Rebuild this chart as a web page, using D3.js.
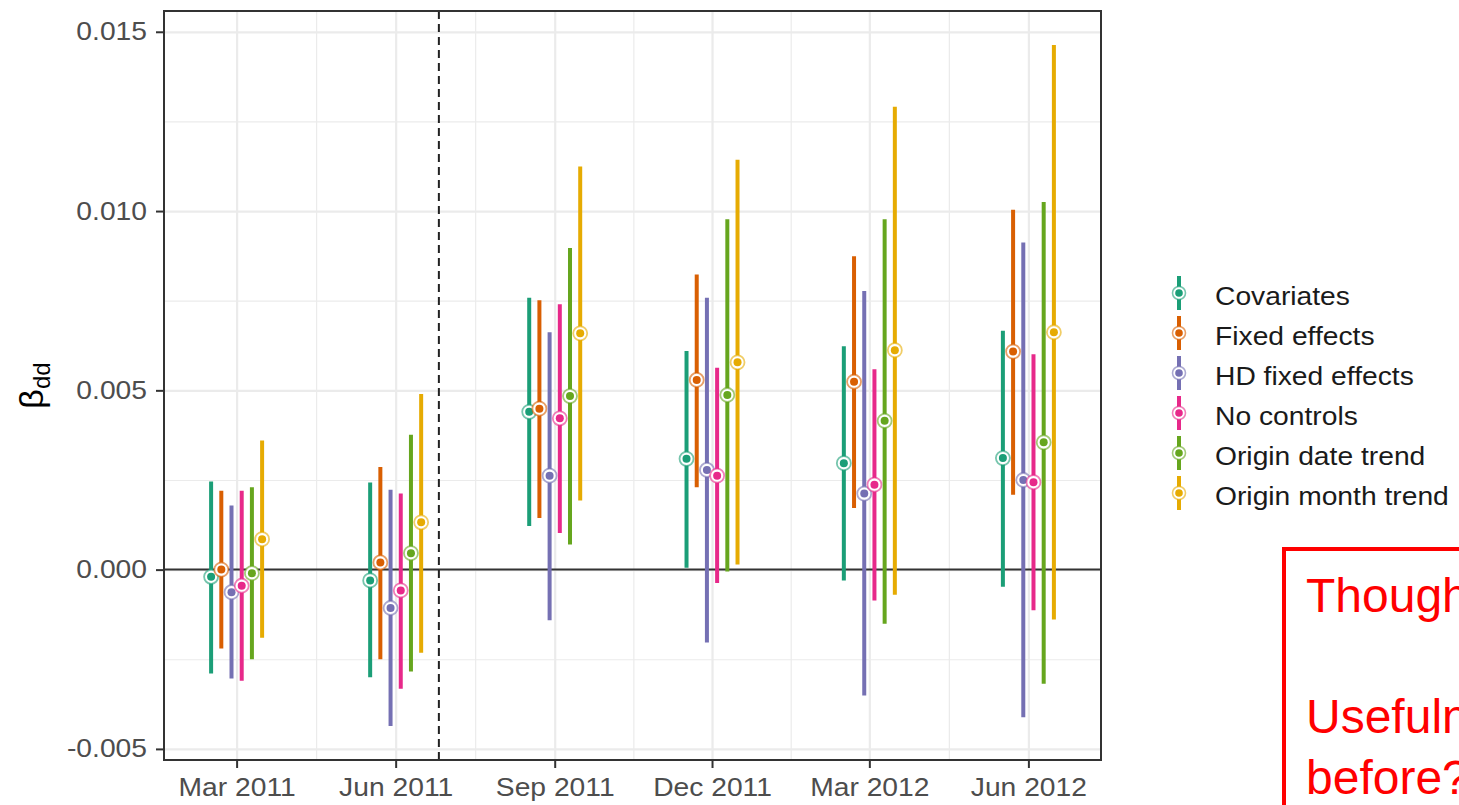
<!DOCTYPE html>
<html>
<head>
<meta charset="utf-8">
<script src="https://cdn.jsdelivr.net/npm/d3@7"></script>
<style>
    body { margin: 0; background: #fff; overflow: hidden; }
    svg { display: block; font-family: "Liberation Sans", Arial, sans-serif; }
</style>
</head>
<body>
<svg class="betaPlot" width="1459" height="805"></svg>
<script>
//Event study style plot: beta_dd per quarter, one dodged pointrange per model spec.

// ---- data ----
var periods = ["2011-03-01", "2011-06-01", "2011-09-01", "2011-12-01", "2012-03-01", "2012-06-01"];
var seriesNames = ["Covariates", "Fixed effects", "HD fixed effects", "No controls", "Origin date trend", "Origin month trend"];
var eventDate = "2011-06-26";

// one row per series, one column per period
var estimate = [
    [-0.0002, -0.0003, 0.0044, 0.00309, 0.00297, 0.00311],
    [0.0000, 0.0002, 0.00449, 0.00529, 0.00524, 0.00608],
    [-0.00063, -0.00107, 0.00262, 0.00278, 0.00212, 0.0025],
    [-0.00045, -0.00058, 0.00422, 0.00262, 0.00237, 0.00244],
    [-0.0001, 0.00046, 0.00484, 0.00487, 0.00415, 0.00355],
    [0.00085, 0.00132, 0.00659, 0.00578, 0.00612, 0.00662]
];
var lower = [
    [-0.0029, -0.0030, 0.00122, 0.00005, -0.0003, -0.00048],
    [-0.0022, -0.0025, 0.00144, 0.0023, 0.00172, 0.00209],
    [-0.00304, -0.00436, -0.00141, -0.00203, -0.00351, -0.00412],
    [-0.0031, -0.00332, 0.00102, -0.00037, -0.00086, -0.00113],
    [-0.0025, -0.00284, 0.0007, -0.00005, -0.00151, -0.00318],
    [-0.0019, -0.00232, 0.00193, 0.00014, -0.0007, -0.00139]
];
var upper = [
    [0.00246, 0.00243, 0.00758, 0.0061, 0.00623, 0.00666],
    [0.0022, 0.00286, 0.00751, 0.00823, 0.00874, 0.01004],
    [0.00179, 0.00223, 0.00662, 0.00758, 0.00777, 0.00912],
    [0.0022, 0.00212, 0.0074, 0.00563, 0.00559, 0.00601],
    [0.0023, 0.00376, 0.00897, 0.00977, 0.00977, 0.01025],
    [0.0036, 0.0049, 0.01124, 0.01143, 0.01291, 0.01463]
];
var yMajorTicks = [-0.005, 0, 0.005, 0.010, 0.015];
var yMinorTicks = [-0.0025, 0.0025, 0.0075, 0.0125];

// Dark2 palette
var colors = ["#1B9E77", "#D95F02", "#7570B3", "#E7298A", "#66A61E", "#E6AB02"];

var svg = d3.select("svg.betaPlot"),
    panel = {left: 164, top: 11, right: 1101, bottom: 760},
    width = panel.right - panel.left,
    height = panel.bottom - panel.top;

var parseDate = d3.utcParse("%Y-%m-%d");
var dates = periods.map(parseDate);
var textStretch = 1.13;   //the reference plot is a bit wider than tall

//x is a date axis padded like ggplot does
var x = d3.scaleUtc()
    .domain([parseDate("2011-01-18"), parseDate("2012-07-13")])
    .range([0, width]);
var dodge = d3.scalePoint().domain(seriesNames).range([-25.5, 25.5]);

var yMin = d3.min(lower, function(r) { return d3.min(r); }),
    yMax = d3.max(upper, function(r) { return d3.max(r); }),
    yPad = (yMax - yMin) * 0.05;
var y = d3.scaleLinear().domain([yMin - yPad, yMax + yPad]).range([height, 0]);

var g = svg.append("g").attr("transform", "translate(" + panel.left + "," + panel.top + ")");

function stretchText(sel) {
    sel.each(function() {
        var t = d3.select(this);
        var tx = +t.attr("x") || 0, ty = +t.attr("y") || 0;
        t.attr("x", 0).attr("y", 0)
            .attr("transform", "translate(" + tx + "," + ty + ") scale(" + textStretch + ",1)");
    });
}

//--Grid
var xMinor = [];
for (var i = 0; i < dates.length - 1; i++) {
    xMinor.push(new Date((dates[i].getTime() + dates[i + 1].getTime()) / 2));
}
function gridStyle(sel, w) {
    sel.select(".domain").remove();
    sel.selectAll("line").attr("stroke", "#ebebeb").attr("stroke-width", w);
}
g.append("g").call(d3.axisLeft(y).tickValues(yMinorTicks).tickSize(-width).tickFormat(""))
    .call(gridStyle, 1.2);
g.append("g").call(d3.axisBottom(x).tickValues(xMinor).tickSize(height).tickFormat(""))
    .call(gridStyle, 1.2);
g.append("g").call(d3.axisLeft(y).tickValues(yMajorTicks).tickSize(-width).tickFormat(""))
    .call(gridStyle, 2.2);
g.append("g").call(d3.axisBottom(x).tickValues(dates).tickSize(height).tickFormat(""))
    .call(gridStyle, 2.2);

//zero line and event line
g.append("line")
    .attr("x1", 0).attr("x2", width)
    .attr("y1", y(0)).attr("y2", y(0))
    .attr("stroke", "#333").attr("stroke-width", 2);
g.append("line")
    .attr("x1", x(parseDate(eventDate))).attr("x2", x(parseDate(eventDate)))
    .attr("y1", 0).attr("y2", height)
    .attr("stroke", "#222").attr("stroke-width", 2)
    .attr("stroke-dasharray", "8,5");

//--Pointranges
seriesNames.forEach(function(name, s) {
    var rows = dates.map(function(d, j) {
        return {date: d, est: estimate[s][j], lo: lower[s][j], hi: upper[s][j]};
    });
    var sg = g.append("g").attr("class", "series");
    sg.selectAll("line")
        .data(rows).enter().append("line")
        .attr("x1", function(d) { return x(d.date) + dodge(name); })
        .attr("x2", function(d) { return x(d.date) + dodge(name); })
        .attr("y1", function(d) { return y(d.lo); })
        .attr("y2", function(d) { return y(d.hi); })
        .attr("stroke", colors[s])
        .attr("stroke-width", 4);
    sg.selectAll("circle.ring")
        .data(rows).enter().append("circle")
        .attr("class", "ring")
        .attr("cx", function(d) { return x(d.date) + dodge(name); })
        .attr("cy", function(d) { return y(d.est); })
        .attr("r", 7)
        .attr("fill", "#fff")
        .attr("stroke", colors[s])
        .attr("stroke-opacity", 0.6)
        .attr("stroke-width", 1.8);
    sg.selectAll("circle.dot")
        .data(rows).enter().append("circle")
        .attr("class", "dot")
        .attr("cx", function(d) { return x(d.date) + dodge(name); })
        .attr("cy", function(d) { return y(d.est); })
        .attr("r", 4)
        .attr("fill", colors[s]);
});

//panel border
g.append("rect")
    .attr("width", width).attr("height", height)
    .attr("fill", "none").attr("stroke", "#333").attr("stroke-width", 2);

//--Axes
var yAxis = g.append("g")
    .call(d3.axisLeft(y).tickValues(yMajorTicks).tickSize(8).tickPadding(9)
        .tickFormat(function(d) { return d.toFixed(3); }));
var xAxis = g.append("g")
    .attr("transform", "translate(0," + height + ")")
    .call(d3.axisBottom(x).tickValues(dates).tickSize(8).tickPadding(10)
        .tickFormat(d3.utcFormat("%b %Y")));
[yAxis, xAxis].forEach(function(ax) {
    ax.select(".domain").remove();
    ax.selectAll("line").attr("stroke", "#333").attr("stroke-width", 2);
    ax.selectAll("text")
        .attr("font-size", "25px")
        .attr("font-family", "Liberation Sans, Arial, sans-serif")
        .attr("fill", "#4d4d4d")
        .call(stretchText);
});

//y title: beta with subscript dd
var yTitle = svg.append("text")
    .attr("transform", "translate(43," + (panel.top + height / 2) + ") rotate(-90)")
    .attr("text-anchor", "middle")
    .attr("fill", "#000");
yTitle.append("tspan").attr("font-size", "34px").text("β");
yTitle.append("tspan").attr("font-size", "24px").attr("dy", "7").text("dd");

//--Legend
var legend = svg.append("g")
    .attr("class", "legend")
    .attr("transform", "translate(1179,293)");
var rowH = 40;
var item = legend.selectAll("g")
    .data(seriesNames).enter().append("g")
    .attr("transform", function(d, i) { return "translate(0," + i * rowH + ")"; });
item.append("line")
    .attr("y1", -17).attr("y2", 17)
    .attr("stroke", function(d, i) { return colors[i]; })
    .attr("stroke-width", 4);
item.append("circle")
    .attr("r", 6.5)
    .attr("fill", "#fff")
    .attr("stroke", function(d, i) { return colors[i]; })
    .attr("stroke-opacity", 0.6)
    .attr("stroke-width", 1.6);
item.append("circle")
    .attr("r", 3.8)
    .attr("fill", function(d, i) { return colors[i]; });
item.append("text")
    .attr("x", 36)
    .attr("y", 12)
    .attr("font-size", "25px")
    .attr("fill", "#1a1a1a")
    .text(function(d) { return d; })
    .call(stretchText);

//--Red note box (runs off the right edge of the slide, as in the source)
var note = svg.append("g").attr("class", "note");
note.append("rect")
    .attr("x", 1284).attr("y", 549)
    .attr("width", 400).attr("height", 400)
    .attr("fill", "none")
    .attr("stroke", "#ff0000")
    .attr("stroke-width", 4);
var noteLines = [["Thoughts?", 612], ["Usefulness", 733], ["before?", 794]];
note.selectAll("text")
    .data(noteLines).enter().append("text")
    .attr("x", 1306)
    .attr("y", function(d) { return d[1]; })
    .attr("font-size", "48px")
    .attr("fill", "#ff0000")
    .text(function(d) { return d[0]; });
</script>
</body>
</html>
